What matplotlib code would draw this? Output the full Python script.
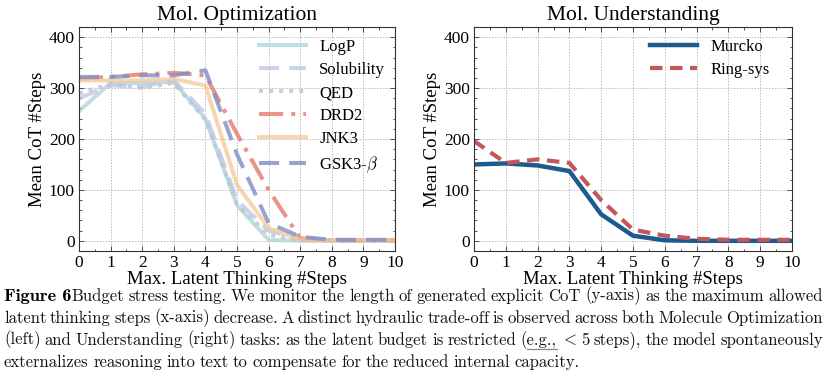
import matplotlib
matplotlib.use("Agg")
import matplotlib.pyplot as plt
from matplotlib.ticker import MultipleLocator

plt.rcParams['mathtext.fontset'] = 'cm'

# ---------------- data ----------------
steps = [0, 1, 2, 3, 4, 5, 6, 7, 8, 9, 10]

logp       = [255, 310, 310, 312, 240, 70, 2, 0, 0, 0, 0]
solubility = [280, 305, 303, 315, 250, 80, 20, 3, 1, 1, 1]
qed        = [290, 308, 300, 310, 238, 72, 12, 1, 0, 0, 0]
drd2       = [318, 322, 327, 330, 325, 210, 100, 5, 1, 1, 1]
jnk3       = [315, 315, 315, 318, 305, 110, 25, 3, 1, 1, 1]
gsk3       = [322, 322, 325, 325, 335, 170, 35, 8, 2, 2, 2]

murcko   = [150, 152, 148, 137, 52, 10, 1, 0, 0, 0, 0]
ringsys  = [196, 153, 160, 153, 80, 22, 10, 4, 2, 2, 2]

opt_series = [
    ("LogP", logp, '#a9d3d6', '-', 0.75),
    ("Solubility", solubility, '#bcc6e4', (0, (5, 2.5)), 0.75),
    ("QED", qed, '#c4c4d6', (0, (1, 1.5)), 0.85),
    ("DRD2", drd2, '#e4796b', (0, (6, 2, 1, 2)), 0.8),
    ("JNK3", jnk3, '#f4c896', '-', 0.75),
    ("GSK3-$\\beta$", gsk3, '#7f8ec4', (0, (5, 2.5)), 0.8),
]
und_series = [
    ("Murcko", murcko, '#1d5a8e', '-', 1.0, 3.2),
    ("Ring-sys", ringsys, '#c4575c', (0, (3, 1.8)), 1.0, 3.0),
]

titles = ["Mol. Optimization", "Mol. Understanding"]
xlabel = "Max. Latent Thinking #Steps"
ylabel = "Mean CoT #Steps"

caption_lead = "Figure 6"
caption_lines = [
    "Budget stress testing. We monitor the length of generated explicit CoT (y-axis) as the maximum allowed",
    "latent thinking steps (x-axis) decrease. A distinct hydraulic trade-off is observed across both Molecule Optimization",
    "(left) and Understanding (right) tasks: as the latent budget is restricted (e.g., $<$ 5 steps), the model spontaneously",
    "externalizes reasoning into text to compensate for the reduced internal capacity.",
]

# ---------------- figure ----------------
W, H = 829, 386
fig = plt.figure(figsize=(W / 100, H / 100), dpi=100)

serif = 'Liberation Serif'

def px_axes(x0, x1, ytop, ybot):
    return fig.add_axes([x0 / W, 1 - ybot / H, (x1 - x0) / W, (ybot - ytop) / H])

ax1 = px_axes(79, 395, 27, 251)
ax2 = px_axes(474, 792, 27, 251)

for name, ys, c, ls, a in opt_series:
    ax1.plot(steps, ys, color=c, ls=ls, lw=2.9, alpha=a, label=name)
for name, ys, c, ls, a, lw in und_series:
    ax2.plot(steps, ys, color=c, ls=ls, lw=lw, alpha=a, label=name)

for ax, t in zip([ax1, ax2], titles):
    ax.set_xlim(0, 10)
    ax.set_ylim(-20, 420)
    ax.xaxis.set_major_locator(MultipleLocator(1))
    ax.xaxis.set_minor_locator(MultipleLocator(0.5))
    ax.yaxis.set_major_locator(MultipleLocator(100))
    ax.yaxis.set_minor_locator(MultipleLocator(20))
    ax.tick_params(which='both', direction='in', top=True, right=True,
                   labelsize=12.5, pad=3, width=0.6, colors='#333333', labelcolor='black')
    ax.tick_params(which='major', length=3.5)
    ax.tick_params(which='minor', length=1.8)
    for lab in ax.get_xticklabels() + ax.get_yticklabels():
        lab.set_fontfamily(serif)
    ax.grid(True, which='major', ls=(0, (1.5, 1.5)), color='#bbbbbb', lw=0.7)
    for s in ax.spines.values():
        s.set_linewidth(0.8)
        s.set_color('#333333')
    ax.set_title(t, fontsize=15.5, fontfamily=serif, pad=5)
    ax.set_xlabel(xlabel, fontsize=13.5, fontfamily=serif, labelpad=0)
    ax.set_ylabel(ylabel, fontsize=13.5, fontfamily=serif, labelpad=2)

ax1.legend(loc='upper right', frameon=False, prop={'family': serif, 'size': 12},
           handlelength=2.8, labelspacing=0.42, handletextpad=0.8,
           borderaxespad=0.2, bbox_to_anchor=(1.0, 0.99))
ax2.legend(loc='upper right', frameon=False, prop={'family': serif, 'size': 12},
           handlelength=2.8, labelspacing=0.42, handletextpad=0.8,
           borderaxespad=0.2, bbox_to_anchor=(0.96, 0.99))

# ---------------- caption (justified) ----------------
cap_family = ['cmr10', 'DejaVu Serif']
bold_family = ['cmb10', 'DejaVu Serif']
left_px, right_px = 4, 823
line_y = [296, 318, 340, 362]
renderer = fig.canvas.get_renderer()

def text_w(s, size, family):
    t = fig.text(0, 0, s, fontsize=size, family=family)
    w = t.get_window_extent(renderer=renderer).width
    t.remove()
    return w

ref_size = 10.0
natural = [text_w(line, ref_size, cap_family) for line in caption_lines]
cap_size = ref_size * (right_px - left_px) * 1.035 / max(natural[:-1])

bold_target = 70.0
bold_size = ref_size * bold_target / text_w(caption_lead, ref_size, bold_family)
bold_size = min(bold_size, cap_size * 1.1)

bold = fig.text(left_px / W, 1 - line_y[0] / H, caption_lead, fontsize=bold_size,
                family=bold_family, va='center', ha='left')
bold_w = bold.get_window_extent(renderer=renderer).width
space_w = text_w("a b", cap_size, cap_family) - text_w("ab", cap_size, cap_family)

for i, line in enumerate(caption_lines):
    x_start = left_px + (bold_w if i == 0 else 0)
    words = line.split(' ')
    widths = [text_w(w, cap_size, cap_family) for w in words]
    yy = 1 - line_y[i] / H
    if i < len(caption_lines) - 1:
        gap = (right_px - x_start - sum(widths)) / (len(words) - 1)
    else:
        gap = space_w * 0.8
    x = x_start
    for w, wd in zip(words, widths):
        fig.text(x / W, yy, w, fontsize=cap_size, family=cap_family,
                 va='center', ha='left', color='#111111')
        if w == "(e.g.,":
            pw = text_w("(", cap_size, cap_family)
            fig.add_artist(plt.Line2D([(x + pw) / W, (x + wd) / W],
                                      [1 - (line_y[i] + 9) / H] * 2,
                                      color='#888888', lw=0.9))
        x += wd + gap

fig.savefig("out.png", dpi=100)
